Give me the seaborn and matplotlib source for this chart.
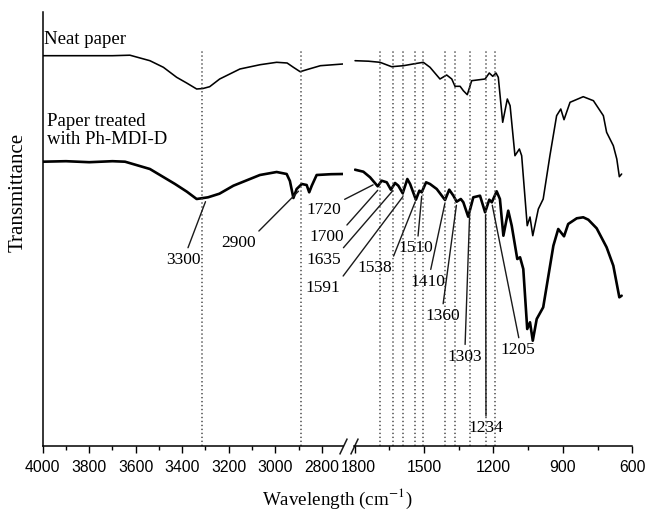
import matplotlib
matplotlib.use("Agg")
import matplotlib.pyplot as plt
import matplotlib.transforms as mtransforms
import numpy as np
import pandas as pd
import seaborn as sns

# ---------------- data ----------------
# Neat paper, high-wavenumber segment
neat_left_wn = [4000, 3840, 3700, 3625, 3539, 3481, 3424, 3381, 3338, 3311, 3282,
                3239, 3152, 3065, 2994, 2949, 2922, 2893, 2865, 2806, 2709]
neat_left_t = [390, 390, 390, 390.5, 385, 378.4, 368.4, 362.7, 356.7, 357.2, 359,
               366.7, 376.7, 381, 383.4, 382.7, 378.4, 374, 376, 380, 381.7]
# Neat paper, fingerprint segment
neat_right_wn = [1798, 1740, 1690, 1640, 1589, 1540, 1503, 1474, 1431, 1402, 1380,
                 1366, 1344, 1330, 1313, 1294, 1236, 1218, 1203, 1189, 1179, 1160,
                 1140, 1128, 1107, 1088, 1078, 1054, 1042, 1030, 1006, 985, 956,
                 927, 909, 895, 869, 812, 768, 725, 711, 682, 667, 656, 646]
neat_right_t = [385, 384.5, 383.4, 379, 380, 382, 383.4, 378.4, 366.7, 370.7, 366.7,
                359.4, 359.4, 355, 351, 365, 366.7, 372.7, 369.4, 372.7, 368.4, 323.4,
                346.7, 340, 290, 296.7, 290, 220, 228.7, 210, 236.7, 246.7, 290,
                330, 336.7, 326, 343.4, 349, 345, 330, 313.4, 300, 286.7, 269, 271.7]
# Paper treated with Ph-MDI-D, high-wavenumber segment
treat_left_wn = [4000, 3900, 3800, 3700, 3646, 3539, 3431, 3380, 3338, 3289, 3240,
                 3180, 3066, 2994, 2951, 2937, 2922, 2908, 2886, 2865, 2854, 2843,
                 2822, 2760, 2709]
treat_left_t = [284, 284.5, 283.5, 284.5, 284, 276.7, 261.7, 254, 246.7, 248.4, 252,
                260, 270.7, 273.7, 271.7, 264.7, 247.7, 256.7, 261.7, 260.7, 253.4, 260,
                270.7, 271.5, 271.7]
# Paper treated with Ph-MDI-D, fingerprint segment
treat_right_wn = [1798, 1762, 1733, 1700, 1683, 1661, 1643, 1625, 1611, 1592, 1572,
                  1560, 1535, 1520, 1510, 1491, 1474, 1445, 1409, 1391, 1373, 1359,
                  1341, 1330, 1309, 1287, 1258, 1236, 1218, 1207, 1186, 1172, 1157,
                  1136, 1121, 1097, 1085, 1071, 1054, 1042, 1030, 1013, 985, 941,
                  920, 895, 877, 840, 812, 790, 754, 711, 682, 656, 646]
treat_right_t = [276, 274, 268.4, 259.4, 265, 263.4, 256, 262.7, 260, 252.4, 266.7,
                 261.7, 246, 255, 253.4, 263.4, 261.7, 256.7, 245.7, 256, 250, 244,
                 246.7, 243.4, 229, 248.4, 250, 233.4, 246, 243.4, 254.4, 246.7, 210,
                 235, 220, 186.7, 188.4, 176.7, 116.7, 123.4, 105, 126.7, 138.4, 200,
                 216.7, 209.4, 221.7, 227.4, 228.4, 226, 217.4, 198.4, 180, 148.4, 150]

# dotted band markers
band_lines_left = [3313, 2888]
band_lines_right = [1690, 1634, 1591, 1541, 1504, 1411, 1364, 1303, 1230, 1195]

# annotated peaks
peak_labels = ["3300", "2900", "1720", "1700", "1635", "1591", "1538", "1510",
               "1410", "1360", "1303", "1234", "1205"]
peak_wn = [int(s) for s in peak_labels]

left_ticks = [4000, 3800, 3600, 3400, 3200, 3000, 2800]
right_ticks = [1800, 1500, 1200, 900, 600]

# ---------------- layout ----------------
W, H = 647, 510
# label centres (pixels) and leader attachment points on the label box
label_px = [(183.3, 260), (238.3, 243.3), (324, 210), (326.7, 237.3), (323.3, 260),
            (323.3, 288.3), (375, 268.3), (416, 248.3), (428.3, 281.7), (442.7, 316),
            (465, 356.7), (486, 428.3), (517.7, 350)]
label_rel = [(0.6, 1), (1, 1), (1, 1), (1, 1), (1, 1), (1, 1), (1, 1), (0.55, 1),
             (0.55, 1), (0.5, 1), (0.5, 1), (0.5, 1), (0.55, 1)]

sns.set_theme(style="white")
plt.rcParams["font.family"] = ["Liberation Serif", "DejaVu Serif"]
plt.rcParams["mathtext.fontset"] = "stix"
for k in ["axes.edgecolor", "xtick.color", "ytick.color", "text.color", "axes.labelcolor"]:
    plt.rcParams[k] = "black"

fig = plt.figure(figsize=(W / 100, H / 100), dpi=100)
x0, xbl, xbr, x1 = 42.7, 343.0, 353.7, 632.3
ytop, ybot = 13.0, 446.7
bb = (H - ybot) / H
hh = (ybot - ytop) / H
ax1 = fig.add_axes([x0 / W, bb, (xbl - x0) / W, hh])
ax2 = fig.add_axes([xbr / W, bb, (x1 - xbr) / W, hh])


def curve(ax, wn, t, lw):
    df = pd.DataFrame({"wn": wn, "t": t})
    sns.lineplot(data=df, x="wn", y="t", ax=ax, color="black", lw=lw,
                 sort=False, estimator=None)


curve(ax1, neat_left_wn, neat_left_t, 1.15)
curve(ax2, neat_right_wn, neat_right_t, 1.15)
curve(ax1, treat_left_wn, treat_left_t, 1.9)
curve(ax2, treat_right_wn, treat_right_t, 1.9)

dot = (0, (0.9, 1.7))
ax1.vlines(band_lines_left, 0, 397, colors="#4a4a4a", linestyles=[dot], lw=1.1)
ax2.vlines(band_lines_right, 0, 397, colors="#4a4a4a", linestyles=[dot], lw=1.1)

ax1.set_xlim(4000, 4000 - (xbl - x0) * 4.30)
ax2.set_xlim(1500 + (424 - xbr) * 4.3207, 600)
for ax in (ax1, ax2):
    ax.set_ylim(0, ybot - ytop)
    ax.set_yticks([])
    ax.set_xlabel("")
    ax.set_ylabel("")
    ax.patch.set_alpha(0)

ax1.set_xticks(left_ticks, labels=[str(v) for v in left_ticks],
               fontfamily="Liberation Sans", fontsize=11.3)
ax1.set_xticks([3900, 3700, 3500, 3300, 3100, 2900], minor=True)
ax2.set_xticks(right_ticks, labels=[str(v) for v in right_ticks],
               fontfamily="Liberation Sans", fontsize=11.3)
ax2.set_xticks([1650, 1350, 1050, 750], minor=True)
for ax in (ax1, ax2):
    ax.tick_params(axis="x", which="major", direction="out", length=5.3, width=1.0,
                   pad=4.5, bottom=True)
    ax.tick_params(axis="x", which="minor", direction="out", length=2.9, width=1.0,
                   bottom=True)
# nudge "1800" away from "2800"
off = mtransforms.ScaledTranslation(3.7 / 100, 0, fig.dpi_scale_trans)
lab0 = ax2.xaxis.get_majorticklabels()[0]
lab0.set_transform(lab0.get_transform() + off)

sns.despine(ax=ax1)
sns.despine(ax=ax2, left=True)
for ax in (ax1, ax2):
    for s in ax.spines.values():
        s.set_linewidth(1.1)

# break marks
kw = dict(marker=[(-1, -2.1), (1, 2.1)], markersize=11.5, linestyle="none",
          color="k", mec="k", mew=1.1, clip_on=False)
ax1.plot([1], [0], transform=ax1.transAxes, **kw)
ax2.plot([0], [0], transform=ax2.transAxes, **kw)

# peak annotations
tl_wn = np.array(treat_left_wn[::-1]); tl_t = np.array(treat_left_t[::-1])
tr_wn = np.array(treat_right_wn[::-1]); tr_t = np.array(treat_right_t[::-1])
for i, (lab, wn) in enumerate(zip(peak_labels, peak_wn)):
    if wn > 2000:
        ax, yv = ax1, np.interp(wn, tl_wn, tl_t)
    else:
        ax, yv = ax2, np.interp(wn, tr_wn, tr_t)
    tx, ty = label_px[i]
    ax.annotate(lab, xy=(wn, yv - 4), xytext=(tx / W, 1 - ty / H),
                textcoords="figure fraction", ha="center", va="center",
                fontsize=12.5,
                arrowprops=dict(arrowstyle="-", color="k", lw=1.0, shrinkA=0,
                                shrinkB=0, relpos=label_rel[i]))

# series labels
fig.text(43.5 / W, 1 - 43.5 / H, "Neat paper", fontsize=13.5, ha="left", va="baseline")
fig.text(46.7 / W, 1 - 126 / H, "Paper treated", fontsize=13.5, ha="left", va="baseline")
fig.text(46.7 / W, 1 - 144 / H, "with Ph-MDI-D", fontsize=13.5, ha="left", va="baseline")

# axis titles
fig.text(337.5 / W, 1 - 505 / H, r"Wavelength (cm$^{-1}$)", fontsize=13.7,
         ha="center", va="baseline")
fig.text(18 / W, 1 - 192 / H, "Transmittance", rotation=90, fontsize=15,
         ha="center", va="center")

fig.savefig("out.png", dpi=100)
